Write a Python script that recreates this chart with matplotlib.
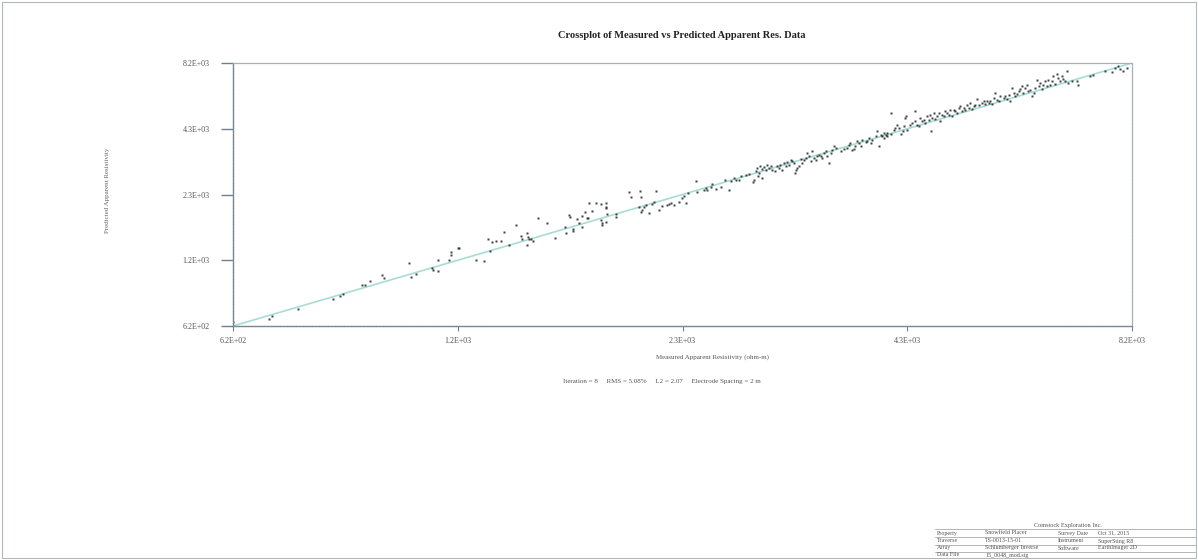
import matplotlib
matplotlib.use("Agg")
import matplotlib.pyplot as plt
from matplotlib.ticker import NullLocator
from matplotlib.patches import Rectangle
import numpy as np

# crossplot data (ohm-m)
measured = [
    620, 687, 693, 747, 826, 843, 850, 897, 905, 920, 950, 956, 1027, 1033, 1048,
    1097, 1100, 1116, 1116, 1152, 1159, 1159, 1182, 1185, 1245, 1274, 1296, 1288,
    1303, 1318, 1337, 1352, 1368, 1396, 1419, 1423, 1444, 1448, 1452, 1460, 1469,
    1444, 1490, 1529, 1565, 1610, 1614, 1628, 1633, 1647, 1647, 1666, 1676, 1691,
    1691, 1705, 1715, 1720, 1740, 1725, 1760, 1786, 1812, 1812, 1812, 1786, 1791,
    1791, 1812, 1817, 1865, 1865, 1935, 1946, 1997, 2003, 2091, 1991, 2003, 2008,
    2020, 2032, 2049, 2067, 2079, 2109, 2127, 2158, 2170, 2183, 2202, 2234, 2253,
    2266, 2279, 2292, 2351, 2345,
    2400, 2411, 2422, 2446, 2457, 2480, 2516, 2551, 2577, 2590, 2615, 2632, 2653,
    2666, 2704, 2730, 2757, 2769, 2783, 2796, 2803, 2809, 2815, 2831, 2836, 2850,
    2863, 2877, 2890, 2904, 2918, 2940, 2959, 2973, 2987, 3004, 3018, 3033, 3047,
    3062, 3077, 3091, 3106, 3115, 3121, 3135, 3150, 3166, 3181, 3196, 3211, 3227,
    3242, 3258, 3273, 3289, 3305, 3321, 3337, 3353, 3369, 3385, 3401, 3417, 3434,
    3451, 3466, 3483, 3500, 3550, 3583, 3617, 3635, 3652, 3669, 3688, 3705, 3724,
    3742, 3761, 3778, 3815, 3832, 3851, 3870, 3888, 3926, 3944, 3963, 4000, 4020,
    4040, 4058, 4098, 4157, 4177,
    3982, 4020, 4058, 4098, 4138, 4200, 4221, 4242, 4263, 4276, 4285, 4298, 4340,
    4360, 4393, 4402, 4423, 4444, 4466, 4487, 4509, 4531, 4552, 4574, 4596, 4609,
    4617, 4639, 4662, 4683, 4706, 4729, 4751, 4774, 4797, 4820, 4843, 4866, 4888,
    4912, 4935, 4960, 4984, 5009, 5032, 5056, 5081, 5105, 5130, 5155, 5179, 5204,
    5230, 5254, 5279, 5329, 5355, 5381, 5405, 5431, 5458, 5484, 5510, 5537, 5563,
    5590, 5617, 5671, 5698, 5725, 5753, 5781, 5807, 5835, 5864, 5891, 5919, 5948,
    5975, 6004, 6033, 6061, 6090, 6119, 6150, 6180, 6210, 6238, 6269, 6300, 6328,
    6359, 6390, 6419, 6450, 6481, 6511, 6543, 6575, 6607, 6639, 6671, 6702, 6735,
    6767, 6798, 6832, 6897, 6997, 7031, 7269, 7338, 7591, 7735, 7811, 7885, 7924,
    8000, 8077,
]
predicted = [
    645, 666, 686, 732, 810, 835, 850, 924, 927, 966, 1024, 990, 1152, 1003, 1038,
    1097, 1078, 1059, 1188, 1187, 1250, 1282, 1337, 1333, 1180, 1178, 1296, 1459,
    1418, 1430, 1429, 1563, 1376, 1675, 1501, 1458, 1546, 1486, 1458, 1459, 1430,
    1375, 1793, 1708, 1467, 1642, 1552, 1846, 1806, 1607, 1568, 1777, 1709, 1829,
    1642, 1899, 1794, 1794, 1920, 2080, 2080, 2061, 2083, 2000, 1977, 1760, 1706,
    1671, 1725, 1866, 1865, 1816, 2316, 2204, 2337, 2206, 2340, 1999, 1903, 1941,
    1998, 2038, 1885, 2059, 2100, 1940, 2016, 2038, 2057, 2079, 2039, 2104, 2178,
    2222, 2076, 2290, 2314, 2568,
    2364, 2401, 2347, 2426, 2506, 2376, 2425, 2605, 2363, 2564, 2652, 2606, 2592,
    2695, 2739, 2765, 2542, 2608, 2830, 2925, 2694, 2784, 2975, 2650, 2896, 2953,
    2857, 3021, 2925, 2974, 2874, 2828, 2992, 2922, 3020, 2878, 3072, 2972, 3093,
    3022, 3175, 3122, 3072, 2785, 2878, 2925, 2974, 3194, 3073, 3174, 3227, 3388,
    3281, 3121, 3443, 3227, 3173, 3278, 3334, 3283, 3228, 3388, 3445, 3280, 3070,
    3389, 3501, 3619, 3560, 3444, 3522, 3555, 3679, 3740, 3500, 3526, 3620, 3802,
    3738, 3618, 3865, 3765, 3801, 3928, 3738, 3865, 3993, 4196, 3618, 3992, 3928,
    4060, 4127, 5024, 4332, 4478,
    4062, 4129, 3993, 4090, 4266, 4339, 4065, 4200, 4412, 4793, 4868, 4264, 4483,
    4552, 5105, 4627, 4480, 4408, 4783, 4631, 4707, 4558, 4862, 4707, 4945, 4222,
    4783, 5024, 4709, 4861, 5026, 4634, 4941, 4865, 5109, 5022, 4945, 5192, 4859,
    5192, 5108, 5024, 5278, 5365, 5107, 5278, 5193, 5452, 5279, 5547, 5195, 5365,
    5455, 5732, 5453, 5542, 5633, 5456, 5632, 5545, 5638, 5457, 5824, 6118, 5730,
    5635, 5926, 5824, 5920, 5731, 6018, 5636, 6428, 6115, 5923, 6021, 6215, 6323,
    6531, 6118, 6425, 6637, 6218, 6321, 5916, 6118, 6427, 6968, 6532, 6747, 6322,
    6639, 6856, 6528, 6972, 6637, 6863, 7204, 6641, 7327, 7090, 6864, 7211, 6977,
    6862, 7566, 6750, 6904, 6857, 6637, 7204, 7323, 7568, 7518, 7827, 7948, 7694,
    7568, 7827,
]

tick_labels = ["6.2E+02", "1.2E+03", "2.3E+03", "4.3E+03", "8.2E+03"]
res_lo, res_hi = 620, 8200

title = "Crossplot of Measured vs Predicted Apparent Res. Data"
x_title = "Measured Apparent Resistivity (ohm-m)"
y_title = "Predicted Apparent Resistivity"
info = "Iteration = 8     RMS = 5.08%     L2 = 2.07     Electrode Spacing = 2 m"

table_head = "Comstock Exploration Inc."
table_rows = [
    ["Property", "Snowfield Placer", "Survey Date", "Oct 31, 2015"],
    ["Traverse", "TS-0013-15-01", "Instrument", "SuperSting R8"],
    ["Array", "Schlumberger Inverse", "Software", "EarthImager 2D"],
    ["Data File", "15_0048_mod.stg", "", ""],
]


def main():
    W, H = 1198, 560
    fig = plt.figure(figsize=(W / 100, H / 100), dpi=100)
    plt.rcParams["font.family"] = ["Liberation Serif", "DejaVu Serif"]

    # page border of the scan
    fig.patches.append(Rectangle((0.002, 0.003), 0.996, 0.994, transform=fig.transFigure,
                                 fill=False, lw=0.8, ec="#b4b8bc"))

    ax = fig.add_axes([233 / W, 1 - 326 / H, 899 / W, 263 / H])
    ax.set_xscale("log")
    ax.set_yscale("log")
    ax.set_xlim(res_lo, res_hi)
    ax.set_ylim(res_lo, res_hi)

    ticks = np.geomspace(res_lo, res_hi, len(tick_labels))
    ax.set_xticks(ticks, tick_labels)
    ax.set_yticks(ticks, tick_labels)
    ax.xaxis.set_minor_locator(NullLocator())
    ax.yaxis.set_minor_locator(NullLocator())

    for side in ["left", "bottom"]:
        ax.spines[side].set_color("#7a8898")
        ax.spines[side].set_linewidth(1.0)
        ax.spines[side].set_linestyle((0, (1.5, 0.8)))
    for side in ["top", "right"]:
        ax.spines[side].set_color("#a9b0b8")
        ax.spines[side].set_linewidth(0.9)
        ax.spines[side].set_linestyle((0, (2, 0.8)))

    ax.tick_params(axis="y", direction="out", length=8.6, width=1.0, color="#6f7f90",
                   pad=8.2, labelsize=5.8, labelcolor="#555555")
    ax.tick_params(axis="x", direction="out", length=3.5, width=0.8, color="#6f7f90",
                   pad=4.4, labelsize=5.8, labelcolor="#555555")

    # 1:1 reference line
    ax.plot([res_lo, res_hi], [res_lo, res_hi], "-", color="#a8dcd4", lw=1.2, zorder=1)
    ax.plot(measured, predicted, "s", ms=2.1, mec="none", mfc="#1e2424", alpha=0.85, zorder=2)

    fig.text(682 / W, 1 - 35 / H, title, ha="center", va="center",
             fontsize=7.5, fontweight="bold", color="#222222")
    fig.text(712 / W, 1 - 357 / H, x_title, ha="center", va="center",
             fontsize=5, color="#555555")
    fig.text(108 / W, 1 - 190 / H, y_title, ha="center", va="center",
             rotation=90, fontsize=5, color="#666666")
    fig.text(662 / W, 1 - 381 / H, info, ha="center", va="center",
             fontsize=5, color="#555555")

    # title block at lower right
    fig.text(1068 / W, 1 - 525 / H, table_head, ha="center", va="center",
             fontsize=4.5, color="#555555")
    col_x = [937, 985, 1058, 1098]
    row_y = [533, 541, 548, 555]
    for row, y in zip(table_rows, row_y):
        for txt, x in zip(row, col_x):
            fig.text(x / W, 1 - y / H, txt, ha="left", va="center",
                     fontsize=4.3, color="#555555")
    for y in [529, 537, 544.5, 551.5]:
        fig.add_artist(plt.Line2D([935 / W, 1195 / W], [1 - y / H, 1 - y / H],
                                  transform=fig.transFigure, lw=0.5, color="#999999"))

    fig.savefig("out.png", dpi=100)


if __name__ == "__main__":
    main()
